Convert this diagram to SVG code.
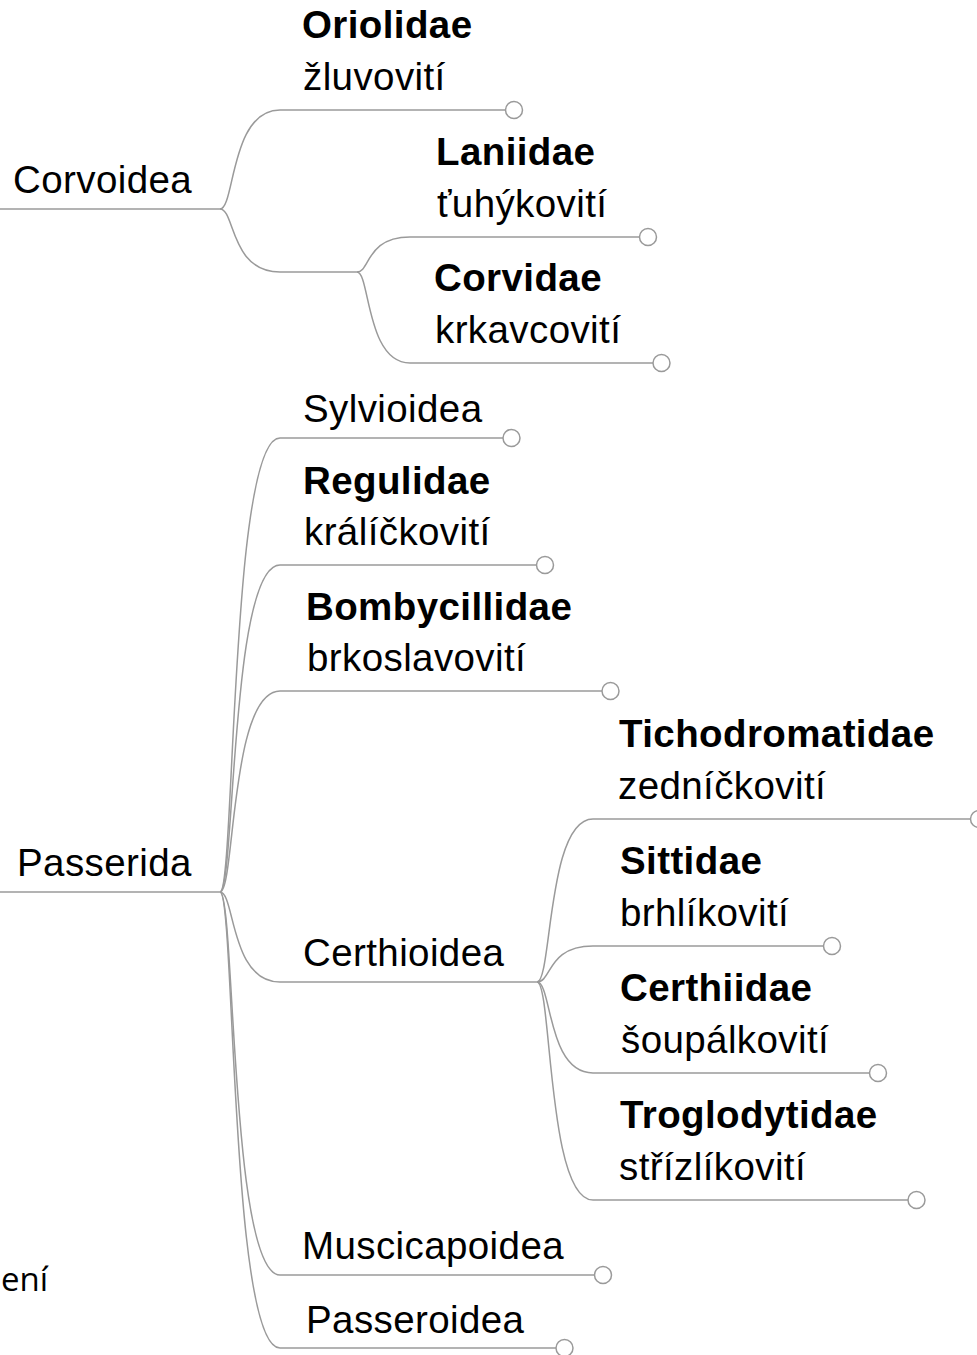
<svg xmlns="http://www.w3.org/2000/svg" width="977" height="1355" viewBox="0 0 977 1355">
<style>
.t{font-family:"Liberation Sans",Arial,sans-serif;font-size:38.5px;letter-spacing:0.4px;fill:#000}
.b{font-weight:bold}
.lk{fill:none;stroke:#9a9a9a;stroke-width:1.5}
.dot{fill:#fff;stroke:#9a9a9a;stroke-width:1.5}
.side{font-family:"Open Sans","Noto Sans",sans-serif;font-size:33px;fill:#000}
</style>
<rect width="977" height="1355" fill="#fff"/>
<g id="connectors">
<path class="lk" d="M-2,209 H220"/>
<path class="lk" d="M220,209 C235,209 230,110 280,110 H505.5"/>
<path class="lk" d="M220,209 C235,209 230,272 280,272 H357"/>
<path class="lk" d="M357,272 C370,272 366,237 410,237 H639.5"/>
<path class="lk" d="M357,272 C370,272 366,363 410,363 H653"/>
<path class="lk" d="M-2,892 H220"/>
<path class="lk" d="M220,892 C235,892 230,438 280,438 H503"/>
<path class="lk" d="M220,892 C235,892 230,565 280,565 H536.5"/>
<path class="lk" d="M220,892 C235,892 230,691 280,691 H602"/>
<path class="lk" d="M220,892 C235,892 230,982 280,982 H537"/>
<path class="lk" d="M220,892 C235,892 230,1275 280,1275 H594"/>
<path class="lk" d="M220,892 C235,892 230,1348 280,1348 H556"/>
<path class="lk" d="M537,982 C552,982 547,819 593,819 H970.5"/>
<path class="lk" d="M537,982 C552,982 547,946 593,946 H823.5"/>
<path class="lk" d="M537,982 C552,982 547,1073 593,1073 H869.5"/>
<path class="lk" d="M537,982 C552,982 547,1200 593,1200 H908"/>
</g>
<g id="corvoidea"><text class="t" x="13" y="193">Corvoidea</text></g>
<g id="oriolidae"><text class="t b" x="302" y="38">Oriolidae</text><text class="t" x="303" y="90">žluvovití</text><circle class="dot" cx="514" cy="110" r="8.5"/></g>
<g id="laniidae"><text class="t b" x="436" y="165">Laniidae</text><text class="t" x="437" y="217">ťuhýkovití</text><circle class="dot" cx="648" cy="237" r="8.5"/></g>
<g id="corvidae"><text class="t b" x="434" y="291">Corvidae</text><text class="t" x="435" y="343">krkavcovití</text><circle class="dot" cx="661.5" cy="363" r="8.5"/></g>
<g id="passerida"><text class="t" x="17" y="876">Passerida</text></g>
<g id="sylvioidea"><text class="t" x="303" y="422">Sylvioidea</text><circle class="dot" cx="511.5" cy="438" r="8.5"/></g>
<g id="regulidae"><text class="t b" x="303" y="494">Regulidae</text><text class="t" x="304" y="545">králíčkovití</text><circle class="dot" cx="545" cy="565" r="8.5"/></g>
<g id="bombycillidae"><text class="t b" x="306" y="620">Bombycillidae</text><text class="t" x="307" y="671">brkoslavovití</text><circle class="dot" cx="610.5" cy="691" r="8.5"/></g>
<g id="certhioidea"><text class="t" x="303" y="966">Certhioidea</text></g>
<g id="tichodromatidae"><text class="t b" x="619" y="747">Tichodromatidae</text><text class="t" x="618" y="799">zedníčkovití</text><circle class="dot" cx="979" cy="819" r="8.5"/></g>
<g id="sittidae"><text class="t b" x="620" y="874">Sittidae</text><text class="t" x="620" y="926">brhlíkovití</text><circle class="dot" cx="832" cy="946" r="8.5"/></g>
<g id="certhiidae"><text class="t b" x="620" y="1001">Certhiidae</text><text class="t" x="621" y="1053">šoupálkovití</text><circle class="dot" cx="878" cy="1073" r="8.5"/></g>
<g id="troglodytidae"><text class="t b" x="620" y="1128">Troglodytidae</text><text class="t" x="619" y="1180">střízlíkovití</text><circle class="dot" cx="916.5" cy="1200" r="8.5"/></g>
<g id="muscicapoidea"><text class="t" x="302" y="1259">Muscicapoidea</text><circle class="dot" cx="603" cy="1275" r="8.5"/></g>
<g id="passeroidea"><text class="t" x="306" y="1333">Passeroidea</text><circle class="dot" cx="564.5" cy="1348" r="8.5"/></g>
<g id="side-label"><text class="side" x="1" y="1291">ení</text></g>
</svg>
